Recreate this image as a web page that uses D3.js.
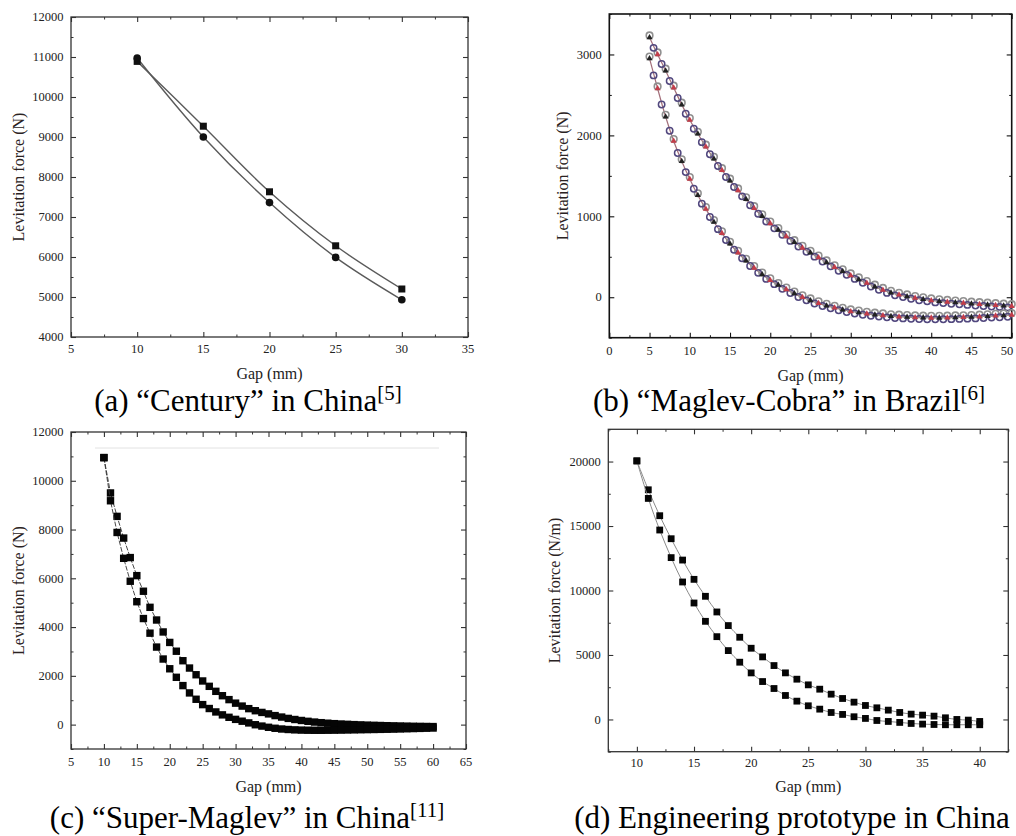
<!DOCTYPE html>
<html>
<head>
<meta charset="utf-8">
<script src="https://cdn.jsdelivr.net/npm/d3@7"></script>
<style>
  body { margin: 0; background: #fff; }
  svg { display: block; }
  text { font-family: 'Liberation Serif', 'Times New Roman', serif; }
</style>
</head>
<body>
<svg id="chart" width="1016" height="836"></svg>
<script>
// (a) "Century"
const gapA = [10, 15, 20, 25, 30];
const centurySquare = [10890, 9270, 7630, 6280, 5200];
const centuryCircle = [10975, 9000, 7360, 5990, 4930];

// (b) "Maglev-Cobra" - two branches, markers every 0.5 mm
const gapB = [5, 6, 7, 8, 9, 10, 11, 12, 13, 14, 15, 16, 17, 18, 19, 20, 21, 22, 23, 24, 25, 26, 27, 28, 29, 30,
  31, 32, 33, 34, 35, 36, 37, 38, 39, 40, 41, 42, 43, 44, 45, 46, 47, 48, 49, 50];
const gapBHalf = [5.5, 6.5, 7.5, 8.5, 9.5, 10.5, 11.5, 12.5, 13.5, 14.5, 15.5, 16.5, 17.5, 18.5, 19.5, 20.5, 21.5,
  22.5, 23.5, 24.5, 25.5, 26.5, 27.5, 28.5, 29.5, 30.5, 31.5, 32.5, 33.5, 34.5, 35.5, 36.5, 37.5, 38.5, 39.5, 40.5,
  41.5, 42.5, 43.5, 44.5, 45.5, 46.5, 47.5, 48.5, 49.5];
const cobraUpper = [3210, 3000, 2800, 2590, 2380, 2190, 2020, 1860, 1710, 1570, 1440, 1320, 1210, 1100, 1000, 910,
  830, 750, 680, 610, 550, 490, 430, 370, 320, 270, 220, 175, 130, 90, 55, 30, 10, -10, -25, -40, -50, -58, -65,
  -72, -80, -86, -92, -98, -104, -110];
const cobraUpperHalf = [3100, 2900, 2690, 2480, 2285, 2100, 1935, 1785, 1640, 1505, 1380, 1265, 1155, 1050, 955,
  870, 790, 715, 645, 580, 520, 460, 400, 345, 295, 245, 198, 152, 110, 72, 42, 20, 0, -18, -32, -45, -54, -62,
  -68, -76, -83, -89, -95, -101, -107];
const cobraLower = [2950, 2580, 2230, 1930, 1680, 1460, 1260, 1090, 930, 790, 660, 550, 450, 360, 280, 210, 150,
  95, 45, 0, -40, -75, -105, -130, -155, -175, -190, -205, -215, -225, -235, -240, -245, -250, -252, -255, -255,
  -253, -250, -248, -245, -240, -235, -230, -225, -220];
const cobraLowerHalf = [2760, 2400, 2075, 1800, 1565, 1360, 1175, 1010, 860, 725, 605, 500, 405, 320, 245, 180,
  122, 70, 22, -20, -58, -90, -118, -143, -165, -183, -198, -210, -220, -230, -238, -243, -248, -251, -254, -255,
  -254, -252, -249, -246, -243, -238, -233, -228, -223];

// (c) "Super-Maglev"
const gapC = [10, 11, 12, 13, 14, 15, 16, 17, 18, 19, 20, 21, 22, 23, 24, 25, 26, 27, 28, 29, 30, 31, 32, 33, 34,
  35, 36, 37, 38, 39, 40, 41, 42, 43, 44, 45, 46, 47, 48, 49, 50, 51, 52, 53, 54, 55, 56, 57, 58, 59, 60];
const superUpper = [10950, 9500, 8540, 7650, 6850, 6110, 5470, 4810, 4290, 3800, 3370, 3010, 2620, 2320, 2045,
  1790, 1570, 1365, 1185, 1025, 880, 760, 655, 570, 500, 440, 370, 310, 255, 210, 170, 135, 105, 80, 58, 40, 25,
  12, 0, -10, -20, -28, -36, -44, -50, -56, -62, -68, -72, -76, -80];
const superLower = [10950, 9180, 7880, 6820, 5880, 5040, 4350, 3750, 3180, 2690, 2290, 1940, 1600, 1300, 1040,
  820, 660, 520, 400, 300, 215, 140, 70, -5, -60, -110, -150, -180, -200, -215, -225, -230, -232, -232, -230,
  -228, -225, -220, -215, -210, -205, -200, -195, -190, -185, -178, -170, -162, -155, -148, -140];

// (d) Engineering prototype
const gapD = [10, 11, 12, 13, 14, 15, 16, 17, 18, 19, 20, 21, 22, 23, 24, 25, 26, 27, 28, 29, 30, 31, 32, 33, 34,
  35, 36, 37, 38, 39, 40];
const protoUpper = [20050, 17810, 15800, 14015, 12360, 10865, 9550, 8335, 7280, 6375, 5523, 4852, 4180, 3613,
  3123, 2684, 2348, 1961, 1626, 1342, 1084, 903, 723, 542, 413, 335, 258, 129, 0, -50, -155];
const protoLower = [20050, 17140, 14690, 12550, 10660, 9030, 7610, 6420, 5340, 4440, 3610, 2940, 2400, 1860,
  1420, 1060, 800, 540, 390, 210, 80, -80, -155, -230, -310, -360, -390, -410, -410, -410, -410];

const svg = d3.select('#chart');
const defs = svg.append('defs');
defs.append('filter').attr('id', 'soft')
  .append('feGaussianBlur').attr('stdDeviation', 0.6);

function drawPanel(cfg) {
  const g = svg.append('g');
  const x = d3.scaleLinear().domain(cfg.xDomain).range([cfg.left, cfg.right]);
  const y = d3.scaleLinear().domain(cfg.yDomain).range([cfg.bottom, cfg.top]);

  // inward ticks on all four sides
  const sides = [
    { axis: d3.axisBottom(x), t: `translate(0,${cfg.bottom})`, vals: cfg.xTicks, minor: cfg.xMinor },
    { axis: d3.axisTop(x), t: `translate(0,${cfg.top})`, vals: cfg.xTicks, minor: cfg.xMinor },
    { axis: d3.axisLeft(y), t: `translate(${cfg.left},0)`, vals: cfg.yTicks, minor: cfg.yMinor },
    { axis: d3.axisRight(y), t: `translate(${cfg.right},0)`, vals: cfg.yTicks, minor: cfg.yMinor }
  ];
  sides.forEach(s => {
    g.append('g').attr('transform', s.t)
      .call(s.axis.tickValues(s.minor).tickSize(-2.5).tickFormat(''))
      .call(a => a.select('.domain').remove())
      .selectAll('line').attr('stroke', cfg.frameColor).attr('stroke-width', 1);
    g.append('g').attr('transform', s.t)
      .call(s.axis.tickValues(s.vals).tickSize(-5).tickFormat(''))
      .call(a => a.select('.domain').remove())
      .selectAll('line').attr('stroke', cfg.frameColor).attr('stroke-width', 1.1);
  });

  g.append('rect')
    .attr('x', cfg.left).attr('y', cfg.top)
    .attr('width', cfg.right - cfg.left).attr('height', cfg.bottom - cfg.top)
    .attr('fill', 'none').attr('stroke', cfg.frameColor).attr('stroke-width', cfg.frameWidth);

  // tick labels (kept inside the page at the right edge)
  g.append('g').selectAll('text').data(cfg.xTicks).enter().append('text')
    .attr('x', d => Math.min(x(d), 1007)).attr('y', cfg.bottom + cfg.xLabelGap)
    .attr('text-anchor', 'middle').attr('font-size', 12.5).attr('fill', '#222')
    .text(d => d);
  g.append('g').selectAll('text').data(cfg.yLabels).enter().append('text')
    .attr('x', cfg.left - 7.5).attr('y', d => y(d) + 4.2)
    .attr('text-anchor', 'end').attr('font-size', 12.5).attr('fill', '#222')
    .text(d => d);

  // axis titles
  g.append('text')
    .attr('transform', `translate(${cfg.yTitleX},${(cfg.top + cfg.bottom) / 2}) rotate(-90)`)
    .attr('text-anchor', 'middle').attr('font-size', 16).attr('fill', '#2a2222')
    .text(cfg.yTitle);
  g.append('text')
    .attr('x', (cfg.left + cfg.right) / 2 + (cfg.xTitleShift || 0)).attr('y', cfg.xTitleY)
    .attr('text-anchor', 'middle').attr('font-size', 16).attr('fill', '#222')
    .text('Gap (mm)');

  // caption
  const cap = g.append('text')
    .attr('x', cfg.capX).attr('y', cfg.capY)
    .attr('text-anchor', 'middle').attr('font-size', 31).attr('fill', '#000');
  cap.append('tspan').text(cfg.caption);
  if (cfg.ref) {
    cap.append('tspan').attr('font-size', 21).attr('dy', -11).text(cfg.ref);
  }

  return { g, x, y };
}

const serifFrame = '#333';

// ---------- (a) ----------
const pa = drawPanel({
  left: 71, right: 468, top: 17, bottom: 337,
  xDomain: [5, 35], yDomain: [4000, 12000],
  xTicks: [5, 10, 15, 20, 25, 30, 35],
  xMinor: [7.5, 12.5, 17.5, 22.5, 27.5, 32.5],
  yTicks: [4000, 5000, 6000, 7000, 8000, 9000, 10000, 11000, 12000],
  yLabels: [4000, 5000, 6000, 7000, 8000, 9000, 10000, 11000, 12000],
  yMinor: [4500, 5500, 6500, 7500, 8500, 9500, 10500, 11500],
  frameColor: serifFrame, frameWidth: 1.3,
  xLabelGap: 16, yTitle: 'Levitation force (N)', yTitleX: 24, xTitleY: 379,
  caption: '(a) \u201cCentury\u201d in China', ref: '[5]', capX: 248, capY: 411
});
{
  const line = d3.line().x(d => pa.x(d[0])).y(d => pa.y(d[1])).curve(d3.curveCatmullRom.alpha(0.5));
  [centurySquare, centuryCircle].forEach(vals => {
    pa.g.append('path').datum(d3.zip(gapA, vals))
      .attr('d', line).attr('fill', 'none').attr('stroke', '#5a5a5a').attr('stroke-width', 1.4);
  });
  pa.g.append('g').selectAll('rect').data(d3.zip(gapA, centurySquare)).enter().append('rect')
    .attr('x', d => pa.x(d[0]) - 3.5).attr('y', d => pa.y(d[1]) - 3.5)
    .attr('width', 7).attr('height', 7).attr('fill', '#111');
  pa.g.append('g').selectAll('circle').data(d3.zip(gapA, centuryCircle)).enter().append('circle')
    .attr('cx', d => pa.x(d[0])).attr('cy', d => pa.y(d[1])).attr('r', 3.8).attr('fill', '#111');
}

// ---------- (b) ----------
const pb = drawPanel({
  left: 609.3, right: 1011.7, top: 14, bottom: 337.7,
  xDomain: [0, 50], yDomain: [-500, 3500],
  xTicks: [0, 5, 10, 15, 20, 25, 30, 35, 40, 45, 50],
  xMinor: [2.5, 7.5, 12.5, 17.5, 22.5, 27.5, 32.5, 37.5, 42.5, 47.5],
  yTicks: [0, 1000, 2000, 3000],
  yLabels: [0, 1000, 2000, 3000],
  yMinor: [-500, 500, 1500, 2500, 3500],
  frameColor: '#111', frameWidth: 1.6,
  xLabelGap: 17, yTitle: 'Levitation force (N)', yTitleX: 568, xTitleY: 381,
  caption: '(b) \u201cMaglev-Cobra\u201d in Brazil', ref: '[6]', capX: 789, capY: 411
});
{
  const mk = pb.g.append('g').attr('filter', 'url(#soft)');
  const branches = [
    { full: cobraUpper, half: cobraUpperHalf },
    { full: cobraLower, half: cobraLowerHalf }
  ];
  branches.forEach(br => {
    const line = d3.line().x(d => pb.x(d[0])).y(d => pb.y(d[1])).curve(d3.curveMonotoneX);
    mk.append('path').datum(d3.zip(gapB, br.full))
      .attr('d', line).attr('fill', 'none').attr('stroke', '#7a3040').attr('stroke-width', 1.2)
      .attr('opacity', 0.7);
    mk.append('g').selectAll('circle').data(d3.zip(gapB, br.full)).enter().append('circle')
      .attr('cx', d => pb.x(d[0])).attr('cy', d => pb.y(d[1]) - 2)
      .attr('r', 3.3).attr('fill', 'none').attr('stroke', '#909090').attr('stroke-width', 1.6);
    mk.append('g').selectAll('circle').data(d3.zip(gapBHalf, br.half)).enter().append('circle')
      .attr('cx', d => pb.x(d[0])).attr('cy', d => pb.y(d[1]) + 1.5)
      .attr('r', 3.2).attr('fill', 'none').attr('stroke', '#51477e').attr('stroke-width', 1.5);
    mk.append('g').selectAll('path').data(d3.zip(gapB, br.full)).enter().append('path')
      .attr('transform', d => `translate(${pb.x(d[0])},${pb.y(d[1])})`)
      .attr('d', d3.symbol(d3.symbolTriangle, 16))
      .attr('fill', (d, i) => i % 2 ? '#c43c4a' : '#222');
  });
}

// ---------- (c) ----------
const pc = drawPanel({
  left: 71, right: 466, top: 432, bottom: 749,
  xDomain: [5, 65], yDomain: [-1000, 12000],
  xTicks: [5, 10, 15, 20, 25, 30, 35, 40, 45, 50, 55, 60, 65],
  xMinor: [7.5, 12.5, 17.5, 22.5, 27.5, 32.5, 37.5, 42.5, 47.5, 52.5, 57.5, 62.5],
  yTicks: [0, 2000, 4000, 6000, 8000, 10000, 12000],
  yLabels: [0, 2000, 4000, 6000, 8000, 10000, 12000],
  yMinor: [-1000, 1000, 3000, 5000, 7000, 9000, 11000],
  frameColor: serifFrame, frameWidth: 1.3,
  xLabelGap: 17, yTitle: 'Levitation force (N)', yTitleX: 24, xTitleY: 792,
  caption: '(c) \u201cSuper-Maglev\u201d in China', ref: '[11]', capX: 247, capY: 828
});
{
  // faint scan artefact near the top of the frame
  pc.g.append('line').attr('x1', 95).attr('x2', 439).attr('y1', 448).attr('y2', 448)
    .attr('stroke', '#e2e2e2').attr('stroke-width', 1);
  const line = d3.line().x(d => pc.x(d[0])).y(d => pc.y(d[1]));
  [superUpper, superLower].forEach(vals => {
    pc.g.append('path').datum(d3.zip(gapC, vals))
      .attr('d', line).attr('fill', 'none').attr('stroke', '#333').attr('stroke-width', 0.9)
      .attr('stroke-dasharray', '5,1.5');
    pc.g.append('g').selectAll('rect').data(d3.zip(gapC, vals)).enter().append('rect')
      .attr('x', d => pc.x(d[0]) - 3.7).attr('y', d => pc.y(d[1]) - 3.7)
      .attr('width', 7.4).attr('height', 7.4).attr('fill', '#050505');
  });
}

// ---------- (d) ----------
const pd = drawPanel({
  left: 608.3, right: 1008.3, top: 429.3, bottom: 751.7,
  xDomain: [7.5, 42.5], yDomain: [-2500, 22500],
  xTicks: [10, 15, 20, 25, 30, 35, 40],
  xMinor: [7.5, 12.5, 17.5, 22.5, 27.5, 32.5, 37.5, 42.5],
  yTicks: [0, 5000, 10000, 15000, 20000],
  yLabels: [0, 5000, 10000, 15000, 20000],
  yMinor: [-2500, 2500, 7500, 12500, 17500, 22500],
  frameColor: serifFrame, frameWidth: 1.3,
  xLabelGap: 15.5, yTitle: 'Levitation force (N/m)', yTitleX: 560, xTitleY: 792,
  caption: '(d) Engineering prototype in China', ref: null, capX: 792, capY: 828
});
{
  const line = d3.line().x(d => pd.x(d[0])).y(d => pd.y(d[1])).curve(d3.curveCatmullRom.alpha(0.5));
  [protoUpper, protoLower].forEach(vals => {
    pd.g.append('path').datum(d3.zip(gapD, vals))
      .attr('d', line).attr('fill', 'none').attr('stroke', '#8a8a8a').attr('stroke-width', 1);
    pd.g.append('g').selectAll('rect').data(d3.zip(gapD, vals)).enter().append('rect')
      .attr('x', d => pd.x(d[0]) - 3.4).attr('y', d => pd.y(d[1]) - 3.4)
      .attr('width', 6.8).attr('height', 6.8).attr('fill', '#050505');
  });
}
</script>
</body>
</html>
